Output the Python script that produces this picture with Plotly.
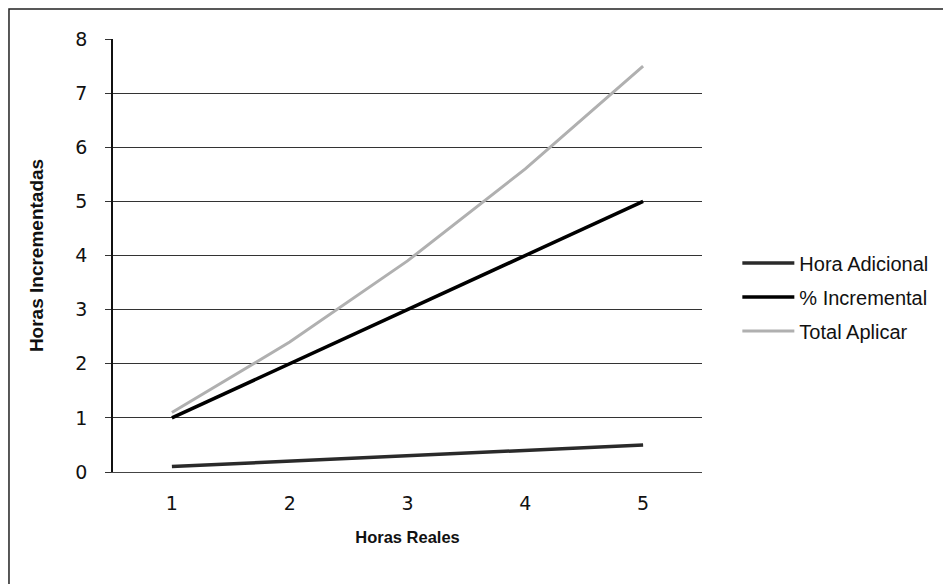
import plotly.graph_objects as go

horas_reales = [1, 2, 3, 4, 5]
hora_adicional = [0.1, 0.2, 0.3, 0.4, 0.5]
pct_incremental = [1, 2, 3, 4, 5]
total_aplicar = [1.1, 2.4, 3.9, 5.6, 7.5]
y_ticks = [0, 1, 2, 3, 4, 5, 6, 7, 8]

fig = go.Figure()
fig.add_trace(go.Scatter(x=horas_reales, y=hora_adicional, mode="lines", name="Hora Adicional",
                         legendgroup="a", line=dict(color="#2a2a2a", width=3.5)))
fig.add_trace(go.Scatter(x=horas_reales, y=pct_incremental, mode="lines", name="% Incremental",
                         legendgroup="b", line=dict(color="#000000", width=3.5)))
fig.add_trace(go.Scatter(x=horas_reales, y=total_aplicar, mode="lines", name="Total Aplicar",
                         legendgroup="c", line=dict(color="#b0b0b0", width=3)))

fig.update_layout(
    width=951, height=584,
    margin=dict(l=105, r=257, t=31, b=120, autoexpand=False),
    paper_bgcolor="white", plot_bgcolor="white",
    showlegend=True,
    legend=dict(x=1.06, y=0.404, xanchor="left", yanchor="middle",
                font=dict(family="Liberation Sans, Arial", size=20, color="#111"),
                tracegroupgap=5, itemwidth=52, bgcolor="rgba(0,0,0,0)"),
    xaxis=dict(range=[0.5, 5.5], tickvals=horas_reales, showgrid=False, automargin=False,
               showline=True, linecolor="#444", linewidth=1, zeroline=False,
               ticks="", ticklabelstandoff=14,
               tickfont=dict(family="DejaVu Sans", size=19, color="#111"),
               title=dict(text="<b>Horas Reales</b>", font=dict(family="Liberation Sans, Arial", size=16.5, color="#111"),
                          standoff=18)),
    yaxis=dict(range=[0, 8], tickvals=y_ticks, showgrid=True, gridcolor="#333", gridwidth=1,
               showline=True, linecolor="#111", linewidth=1.5, zeroline=False, automargin=False,
               ticks="outside", ticklen=6, tickcolor="#333", ticklabelstandoff=14,
               tickfont=dict(family="DejaVu Sans", size=19, color="#111"),
               title=dict(text="<b>Horas Incrementadas</b>", font=dict(family="Liberation Sans, Arial", size=19, color="#111"),
                          standoff=27)),
)

fig.add_shape(type="rect", xref="paper", yref="paper", x0=-0.1766, x1=1.5, y0=-0.3, y1=1.069,
              line=dict(color="#222", width=1.5), layer="below")

fig.write_html("out.html")
